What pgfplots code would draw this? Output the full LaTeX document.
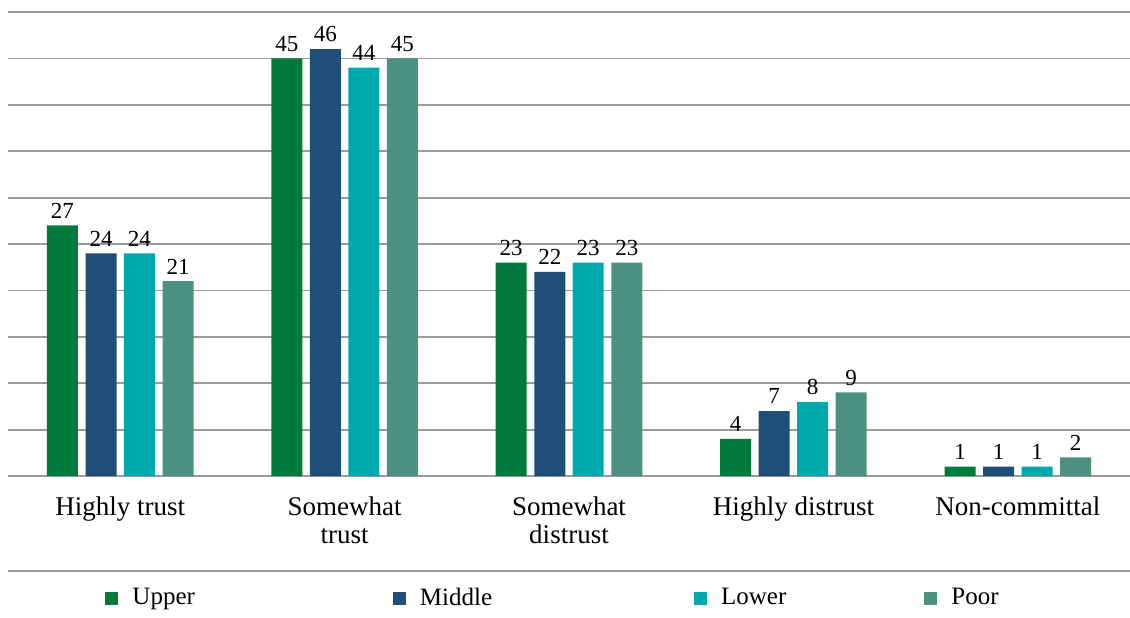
\documentclass[border=0pt]{standalone}
\usepackage{fontspec}
\setmainfont{Liberation Serif}
\usepackage{pgfplots}
\pgfplotsset{compat=1.18}
\definecolor{cUpper}{RGB}{0,122,61}
\definecolor{cMiddle}{RGB}{31,78,121}
\definecolor{cLower}{RGB}{0,169,172}
\definecolor{cPoor}{RGB}{74,145,130}
\definecolor{gridgray}{RGB}{155,155,155}
\begin{document}
\begin{tikzpicture}
\useasboundingbox (0,0) rectangle (565pt,308.5pt);
\begin{axis}[
    at={(4pt,70.5pt)}, anchor=south west,
    scale only axis, width=561pt, height=232pt,
    ybar, bar width=15.5pt,
    xmin=-0.5, xmax=4.5,
    ymin=0, ymax=50,
    xtick={0,1,2,3,4},
    xticklabels={Highly trust, {Somewhat\\trust}, {Somewhat\\distrust}, Highly distrust, Non-committal},
    xticklabel style={align=center, font=\fontsize{13.5}{14}\selectfont, yshift=-4.5pt},
    ytick={0,5,...,50}, yticklabels={},
    ymajorgrids=true,
    grid style={gridgray, line width=0.9pt},
    axis lines=left,
    axis line style={draw=none},
    tick style={draw=none},
    /pgf/number format/assume math mode=true,
    nodes near coords,
    every node near coord/.append style={font=\fontsize{11.5}{12}\selectfont, black},
    legend columns=4,
    legend image code/.code={\fill[#1] (0pt,-3.25pt) rectangle (6.5pt,3.25pt);},
    legend style={at={(0.0865,-0.263)}, anchor=west, draw=none, fill=none,
        inner sep=0pt, font=\fontsize{12.5}{14}\selectfont,
        /tikz/every odd column/.style={column sep=5pt},
        /tikz/column 2/.style={column sep=97pt},
        /tikz/column 4/.style={column sep=99pt},
        /tikz/column 6/.style={column sep=67pt}},
]
\addplot[fill=cUpper, draw=none, bar shift=-28.9pt]
    coordinates {(0,27) (1,45) (2,23) (3,4) (4,1)};
\addplot[fill=cMiddle, draw=none, bar shift=-9.6pt]
    coordinates {(0,24) (1,46) (2,22) (3,7) (4,1)};
\addplot[fill=cLower, draw=none, bar shift=9.6pt]
    coordinates {(0,24) (1,44) (2,23) (3,8) (4,1)};
\addplot[fill=cPoor, draw=none, bar shift=28.9pt]
    coordinates {(0,21) (1,45) (2,23) (3,9) (4,2)};
\legend{Upper, Middle, Lower, Poor}
\end{axis}
\draw[gridgray, line width=0.9pt] (4pt,23pt) -- (565pt,23pt);
\end{tikzpicture}
\end{document}
